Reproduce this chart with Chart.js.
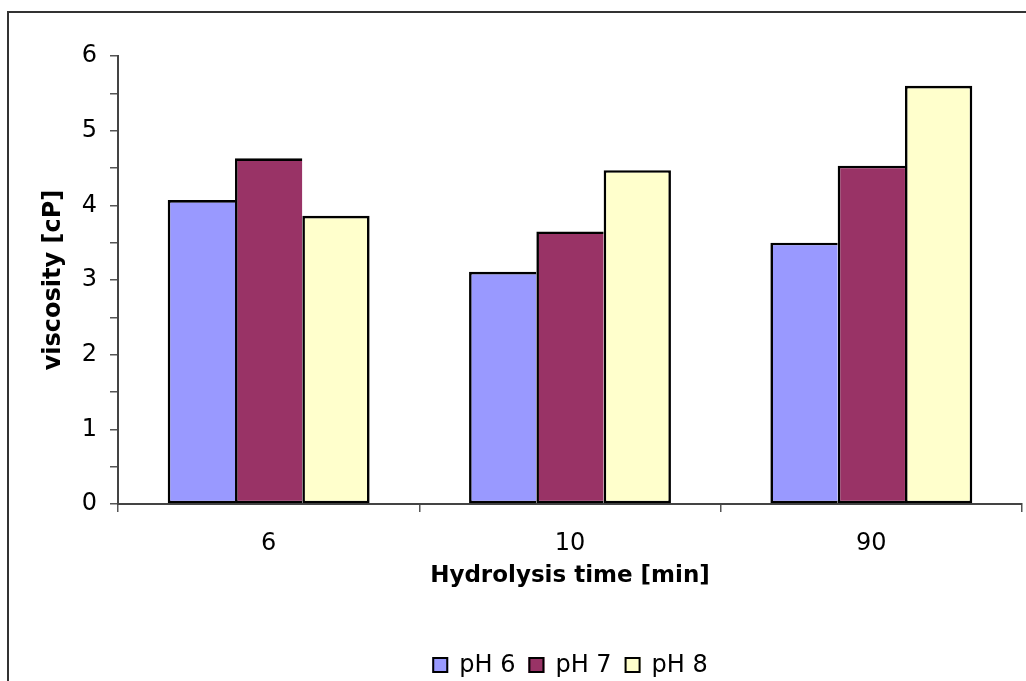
<!DOCTYPE html>
<html>
<head>
<meta charset="utf-8">
<script src="https://cdn.jsdelivr.net/npm/chart.js@4/dist/chart.umd.min.js"></script>
<style>
  html, body { margin: 0; padding: 0; background: #fff; }
  #wrap { width: 1026px; height: 681px; position: relative; }
</style>
</head>
<body>
<div id="wrap"><canvas id="chart" width="1026" height="681"></canvas></div>
<script>
// Viscosity of hydrolysates at three pH levels
const categories = ['6', '10', '90'];
const seriesNames = ['pH 6', 'pH 7', 'pH 8'];
const ph6 = [4.07, 3.11, 3.50];
const ph7 = [4.63, 3.65, 4.53];
const ph8 = [3.86, 4.47, 5.60];
const yTicks = [0, 1, 2, 3, 4, 5, 6];

const fillColors = ['#9999FF', '#993366', '#FFFFCC'];
const FONT = '"DejaVu Sans", "Liberation Sans", Arial, sans-serif';

const seriesValues = [ph6, ph7, ph8];
const datasets = seriesValues.map((vals, i) => ({
  label: seriesNames[i],
  data: vals,
  backgroundColor: fillColors[i],
  borderColor: '#000',
  borderWidth: { top: 2.6, bottom: 2.6, left: 2.6, right: i === seriesValues.length - 1 ? 2.6 : 0 },
  borderSkipped: false,
  barPercentage: 1.0,
  categoryPercentage: 0.67
}));

// Frame along the left and top edges of the picture
const framePlugin = {
  id: 'frame',
  beforeDraw(chart) {
    const ctx = chart.ctx;
    ctx.save();
    ctx.fillStyle = '#fff';
    ctx.fillRect(0, 0, chart.width, chart.height);
    ctx.strokeStyle = '#333';
    ctx.lineWidth = 2;
    ctx.beginPath();
    ctx.moveTo(8, chart.height);
    ctx.lineTo(8, 12);
    ctx.lineTo(chart.width, 12);
    ctx.stroke();
    ctx.restore();
  }
};

// Legend row centred under the plot area
const legendPlugin = {
  id: 'bottomLegend',
  afterDraw(chart) {
    const ctx = chart.ctx;
    const area = chart.chartArea;
    const box = 16, gap = 11, spacing = 13, cy = 665;
    ctx.save();
    ctx.font = '24px ' + FONT;
    const items = chart.data.datasets.map(ds => ({
      text: ds.label, color: ds.backgroundColor, w: ctx.measureText(ds.label).width
    }));
    const total = items.reduce((s, it) => s + box + gap + it.w, 0) + spacing * (items.length - 1);
    let x = (area.left + area.right) / 2 - total / 2;
    ctx.textBaseline = 'middle';
    ctx.textAlign = 'left';
    items.forEach(it => {
      ctx.fillStyle = it.color;
      ctx.fillRect(x, cy - box / 2, box, box);
      ctx.strokeStyle = '#000';
      ctx.lineWidth = 2;
      ctx.strokeRect(x + 1, cy - box / 2 + 1, box - 2, box - 2);
      ctx.fillStyle = '#000';
      ctx.fillText(it.text, x + box + gap, cy + 1);
      x += box + gap + it.w + spacing;
    });
    ctx.restore();
  }
};

new Chart(document.getElementById('chart'), {
  type: 'bar',
  data: { labels: categories, datasets },
  plugins: [framePlugin, legendPlugin],
  options: {
    responsive: false,
    animation: false,
    devicePixelRatio: 1,
    layout: { padding: { left: 14, right: 4, top: 56, bottom: 70 } },
    plugins: {
      legend: { display: false },
      tooltip: { enabled: false }
    },
    scales: {
      x: {
        afterFit(scale) { scale.height = 107; },
        grid: {
          display: true, offset: true, drawOnChartArea: false, drawTicks: true,
          tickLength: 8, color: '#555', lineWidth: 1.5
        },
        border: { display: true, color: '#444', width: 2 },
        ticks: { color: '#000', font: { family: FONT, size: 24 }, padding: 17 },
        title: {
          display: true, text: 'Hydrolysis time [min]', color: '#000',
          font: { family: FONT, size: 23, weight: 'bold' },
          padding: { top: 0, bottom: 21 }
        }
      },
      y: {
        min: 0, max: 6,
        afterFit(scale) { scale.width = 104; },
        afterBuildTicks(scale) {
          const t = [];
          for (let v = 0; v <= 6.0001; v += 0.5) t.push({ value: Math.round(v * 10) / 10 });
          scale.ticks = t;
        },
        grid: {
          display: true, drawOnChartArea: false, drawTicks: true,
          tickLength: 8, color: '#555', lineWidth: 1.5
        },
        border: { display: true, color: '#444', width: 2 },
        ticks: {
          color: '#000', font: { family: FONT, size: 24 }, padding: 13,
          callback: v => (yTicks.includes(v) ? String(v) : '')
        },
        title: {
          display: true, text: 'viscosity [cP]', color: '#000',
          font: { family: FONT, size: 24, weight: 'bold' },
          padding: { top: 25, bottom: 0 }
        }
      }
    }
  }
});
</script>
</body>
</html>
